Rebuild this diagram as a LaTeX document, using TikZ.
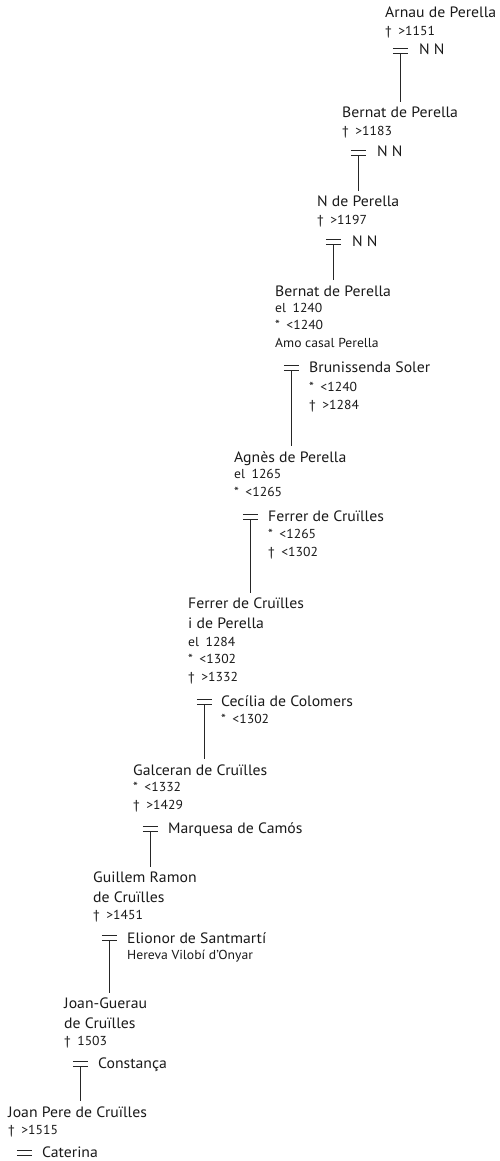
\documentclass[tikz,border=0pt]{standalone}
\usepackage{fontspec}
\setmainfont{PT Sans}[FakeStretch=1.05]
\usetikzlibrary{positioning}

\tikzset{
  fil/.style={line width=1.1pt, draw=black!85},
  persona/.style={anchor=base west, inner xsep=0pt, inner ysep=5pt, align=left, text=black!90, font=\fontsize{15}{19.5}\selectfont},
  dades/.style={anchor=base west, inner sep=0pt, align=left, text=black!90, font=\fontsize{13}{17.5}\selectfont},
  casament/.style={minimum width=15pt, minimum height=4pt, inner sep=0pt,
    append after command={(\tikzlastnode.north west) edge[fil] (\tikzlastnode.north east)
                          (\tikzlastnode.south west) edge[fil] (\tikzlastnode.south east)}}
}

\begin{document}
\begin{tikzpicture}[x=1pt,y=-1pt]
   \useasboundingbox (0,0) rectangle (499,1161);
   % generacio 1 (y = base de la darrera linia)
   \node[persona] (arnau) at (385,18) {Arnau de Perella};
   \node[dades] (arnau-dades) at (385,36) {†\enspace>1151};
   \node[casament] (arnau-cas) at (400.5,51) {};
   \node[persona] (arnau-conj) at (419,55) {N N};
   % generacio 2
   \node[persona] (bernat) at (342,118) {Bernat de Perella};
   \node[dades] (bernat-dades) at (342,136) {†\enspace>1183};
   \node[casament] (bernat-cas) at (358.5,153) {};
   \node[persona] (bernat-conj) at (377,157) {N N};
   % generacio 3
   \node[persona] (nperella) at (317,207) {N de Perella};
   \node[dades] (nperella-dades) at (317,224) {†\enspace>1197};
   \node[casament] (nperella-cas) at (333.5,242) {};
   \node[persona] (nperella-conj) at (352,246) {N N};
   % generacio 4
   \node[persona] (bernatb) at (275,296) {Bernat de Perella};
   \node[dades] (bernatb-dades) at (275,347) {el\enspace1240\\*\enspace<1240\\Amo casal Perella};
   \node[casament] (bernatb-cas) at (291.5,368) {};
   \node[persona] (brunissenda) at (309,372) {Brunissenda Soler};
   \node[dades] (brunissenda-dades) at (309,409) {*\enspace<1240\\†\enspace>1284};
   % generacio 5
   \node[persona] (agnes) at (234,462) {Agnès de Perella};
   \node[dades] (agnes-dades) at (234,496) {el\enspace1265\\*\enspace<1265};
   \node[casament] (agnes-cas) at (250.5,517) {};
   \node[persona] (ferrerc) at (268,521) {Ferrer de Cruïlles};
   \node[dades] (ferrerc-dades) at (268,556) {*\enspace<1265\\†\enspace<1302};
   % generacio 6
   \node[persona] (ferrer) at (188,628) {Ferrer de Cruïlles\\i de Perella};
   \node[dades] (ferrer-dades) at (188,681) {el\enspace1284\\*\enspace<1302\\†\enspace>1332};
   \node[casament] (ferrer-cas) at (204.5,702) {};
   \node[persona] (cecilia) at (221,706) {Cecília de Colomers};
   \node[dades] (cecilia-dades) at (221,723) {*\enspace<1302};
   % generacio 7
   \node[persona] (galceran) at (133,775) {Galceran de Cruïlles};
   \node[dades] (galceran-dades) at (133,809) {*\enspace<1332\\†\enspace>1429};
   \node[casament] (galceran-cas) at (150.5,829) {};
   \node[persona] (marquesa) at (168,833) {Marquesa de Camós};
   % generacio 8
   \node[persona] (guillem) at (93,902) {Guillem Ramon\\de Cruïlles};
   \node[dades] (guillem-dades) at (93,919) {†\enspace>1451};
   \node[casament] (guillem-cas) at (109.5,938) {};
   \node[persona] (elionor) at (127,943) {Elionor de Santmartí};
   \node[dades] (elionor-dades) at (127,959) {Hereva Vilobí d’Onyar};
   % generacio 9
   \node[persona] (joanguerau) at (64,1028) {Joan-Guerau\\de Cruïlles};
   \node[dades] (joanguerau-dades) at (64,1045) {†\enspace1503};
   \node[casament] (joanguerau-cas) at (80.5,1064) {};
   \node[persona] (constanca) at (98,1068) {Constança};
   % generacio 10
   \node[persona] (joanpere) at (8,1117) {Joan Pere de Cruïlles};
   \node[dades] (joanpere-dades) at (8,1134) {†\enspace>1515};
   \node[casament] (joanpere-cas) at (24.5,1153) {};
   \node[persona] (caterina) at (42,1157) {Caterina};

   \draw[fil] (arnau-cas.south) -- (arnau-cas.south |- bernat.north);
   \draw[fil] (bernat-cas.south) -- (bernat-cas.south |- nperella.north);
   \draw[fil] (nperella-cas.south) -- (nperella-cas.south |- bernatb.north);
   \draw[fil] (bernatb-cas.south) -- (bernatb-cas.south |- agnes.north);
   \draw[fil] (agnes-cas.south) -- (agnes-cas.south |- ferrer.north);
   \draw[fil] (ferrer-cas.south) -- (ferrer-cas.south |- galceran.north);
   \draw[fil] (galceran-cas.south) -- (galceran-cas.south |- guillem.north);
   \draw[fil] (guillem-cas.south) -- (guillem-cas.south |- joanguerau.north);
   \draw[fil] (joanguerau-cas.south) -- (joanguerau-cas.south |- joanpere.north);
\end{tikzpicture}
\end{document}
